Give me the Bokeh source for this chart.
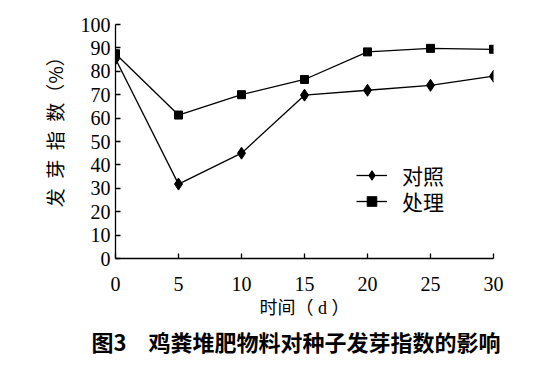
from bokeh.plotting import figure
from bokeh.models import Legend, LegendItem, Title, FixedTicker, Range1d
from bokeh.embed import file_html
from bokeh.resources import INLINE

days = [0, 5, 10, 15, 20, 25, 30]
control = [85.3, 31.8, 45.0, 69.8, 71.9, 74.0, 77.9]
treated = [87.5, 61.3, 70.0, 76.5, 88.3, 89.8, 89.4]
series_names = ["对照", "处理"]
x_ticks = [0, 5, 10, 15, 20, 25, 30]
y_ticks = [0, 10, 20, 30, 40, 50, 60, 70, 80, 90, 100]
x_label = "时间（ d ）"
y_label = "\u3000\u2002发\u2002芽\u2002指\u2002数（%）"
caption = "图3\u3000鸡粪堆肥物料对种子发芽指数的影响"

SERIF = "'Liberation Serif', 'Noto Sans CJK SC'"
CJK = "'Noto Sans CJK SC'"

p = figure(width=541, height=358, output_backend="svg", toolbar_location=None,
           x_range=Range1d(0, 30), y_range=Range1d(0, 100),
           min_border_left=115, min_border_right=48, min_border_top=24,
           min_border_bottom=10)
p.outline_line_color = None
p.xgrid.visible = False
p.ygrid.visible = False
p.background_fill_color = "white"
p.border_fill_color = "white"

for ax in (p.xaxis[0], p.yaxis[0]):
    ax.axis_line_width = 1.3
    ax.axis_line_color = "black"
    ax.major_tick_in = 5
    ax.major_tick_out = 0
    ax.major_tick_line_width = 1.3
    ax.minor_tick_line_color = None
    ax.major_label_text_font = SERIF
    ax.major_label_text_font_size = "20px"
    ax.major_label_text_color = "black"
    ax.axis_label_text_font_style = "normal"
    ax.axis_label_text_color = "black"

p.xaxis[0].axis_label_text_font = SERIF
p.yaxis[0].axis_label_text_font = CJK
p.xaxis[0].axis_label_text_font_size = "18px"
p.yaxis[0].axis_label_text_font_size = "19px"
p.xaxis[0].ticker = FixedTicker(ticks=x_ticks)
p.yaxis[0].ticker = FixedTicker(ticks=y_ticks)
p.xaxis[0].axis_label = x_label
p.yaxis[0].axis_label = y_label
p.xaxis[0].major_label_standoff = 18
p.yaxis[0].major_label_standoff = 5
p.xaxis[0].axis_label_standoff = 4
p.yaxis[0].axis_label_standoff = 10

l1 = p.line(days, control, line_color="black", line_width=1.3)
m1 = p.scatter(days, control, marker="diamond", size=12, fill_color="black", line_color="black")
l2 = p.line(days, treated, line_color="black", line_width=1.3)
m2 = p.scatter(days, treated, marker="square", size=8, fill_color="black", line_color="black")

legend_style = dict(padding=0, margin=0, spacing=0,
                    glyph_width=31, glyph_height=24, label_height=24,
                    label_standoff=15, border_line_color=None,
                    background_fill_alpha=0,
                    label_text_font=SERIF, label_text_font_size="21px",
                    label_text_color="black")
leg1 = Legend(items=[LegendItem(label=series_names[0], renderers=[l1, m1])],
              location=(241, 68), **legend_style)
leg2 = Legend(items=[LegendItem(label=series_names[1], renderers=[l2, m2])],
              location=(241, 42), **legend_style)
p.add_layout(leg1, "center")
p.add_layout(leg2, "center")

t = Title(text=caption, align="left", text_font=CJK, text_font_size="22px",
          text_font_style="bold", text_color="black", standoff=4, offset=-24)
p.add_layout(t, "below")

open("out.html", "w").write(file_html(p, INLINE))
